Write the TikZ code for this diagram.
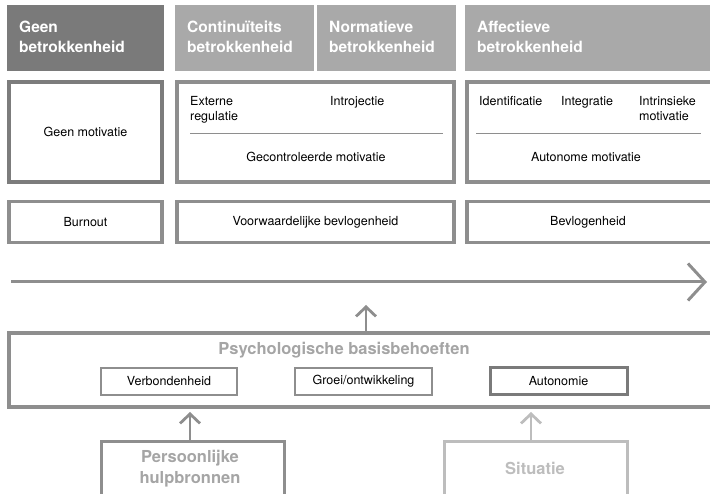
\documentclass[tikz,border=0pt]{standalone}
\usepackage{fontspec}
\setmainfont{TeX Gyre Heros}
\usetikzlibrary{arrows.meta}
\definecolor{hdark}{HTML}{7A7A7A}
\definecolor{hlight}{HTML}{A9A9A9}
\definecolor{bord}{HTML}{8E8E8E}
\definecolor{bordd}{HTML}{7C7C7C}
\definecolor{bordl}{HTML}{BDBDBD}
\definecolor{txtg}{HTML}{A5A5A5}
\tikzset{
  hdrtext/.style={anchor=north west, align=left, text=white, font=\fontsize{15.5}{20}\selectfont\bfseries, inner sep=0pt},
  boxx/.style={draw=#1, line width=3.4pt, fill=white},
  lbl/.style={font=\fontsize{12.5}{15}\selectfont, inner sep=0pt, text=black},
  sep/.style={draw=bord, line width=1pt},
  upa/.style={draw=#1, line width=2.8pt, -{Straight Barb[length=9.5pt,width=20pt,line width=2.8pt]}},
}
\begin{document}
\begin{tikzpicture}[x=1pt,y=-1pt]
\useasboundingbox (0,0) rectangle (710,494);
% headers
\fill[hdark] (7,5) rectangle (164,71);
\fill[hlight] (175,5) rectangle (314,71);
\fill[hlight] (317,5) rectangle (456,71);
\fill[hlight] (465,5) rectangle (712,71);
\node[hdrtext] (h1) at (19,21) {Geen\\betrokkenheid};
\node[hdrtext] (h2) at (187,21) {Continuïteits\\betrokkenheid};
\node[hdrtext] (h3) at (329,21) {Normatieve\\betrokkenheid};
\node[hdrtext] (h4) at (477,21) {Affectieve\\betrokkenheid};
% row 2
\draw[boxx=bordd] (9,82) rectangle (162,182);
\draw[boxx=bord] (177,82) rectangle (454,182);
\draw[boxx=bord] (467,82) rectangle (712,182);
\node[lbl] (gm) at (85.5,132) {Geen motivatie};
\node[lbl, anchor=north west, align=left] (ext) at (190,96) {Externe\\regulatie};
\node[lbl, anchor=north west] (intro) at (330,96) {Introjectie};
\draw[sep] (190,134) -- (443,134);
\node[lbl] (gec) at (316,157) {Gecontroleerde motivatie};
\node[lbl, anchor=north west] (ident) at (479,96) {Identificatie};
\node[lbl, anchor=north west] (integ) at (561,96) {Integratie};
\node[lbl, anchor=north west, align=left] (intr) at (639,96) {Intrinsieke\\motivatie};
\draw[sep] (476,134) -- (701,134);
\node[lbl] (aut) at (586,157) {Autonome motivatie};
% row 3
\draw[boxx=bord] (9,201.5) rectangle (162,242.5);
\draw[boxx=bord] (177,201.5) rectangle (454,242.5);
\draw[boxx=bord] (467,201.5) rectangle (712,242.5);
\node[lbl] (bo) at (85.5,222) {Burnout};
\node[lbl] (vb) at (315.5,222) {Voorwaardelijke bevlogenheid};
\node[lbl] (bv) at (588,222) {Bevlogenheid};
% main arrow
\coordinate (a0) at (11,282);
\coordinate (a1) at (707,282);
\draw[draw=bord, line width=3pt, -{Straight Barb[length=17pt,width=37pt,line width=3pt]}] (a0) -- (a1);
% big box
\draw[boxx=bord] (9,333) rectangle (712,407);
\node[font=\fontsize{16.5}{20}\selectfont\bfseries, text=txtg, inner sep=0pt] (psy) at (344,350) {Psychologische basisbehoeften};
\draw[draw=bord, line width=2.6pt, fill=white] (101,368) rectangle (237,395);
\draw[draw=bord, line width=2.6pt, fill=white] (295,368) rectangle (432,395);
\draw[draw=hdark, line width=3pt, fill=white] (490,368) rectangle (627,395);
\node[lbl] (vbh) at (169,381.5) {Verbondenheid};
\node[lbl] (gro) at (363.5,381.5) {Groei/ontwikkeling};
\node[lbl] (auto) at (558.5,381.5) {Autonomie};
% up arrow to main arrow
\coordinate (u0) at (366,331);
\coordinate (u1) at (366,305);
\draw[upa=bord] (u0) -- (u1);
% bottom boxes
\draw[draw=bord, line width=3pt, fill=white] (101,441) rectangle (284,496);
\node[font=\fontsize{16.5}{21}\selectfont\bfseries, text=txtg, align=center, inner sep=0pt] (ph) at (190,469) {Persoonlijke\\hulpbronnen};
\draw[draw=bordl, line width=3pt, fill=white] (444,441) rectangle (627,496);
\node[font=\fontsize{16.5}{20}\selectfont\bfseries, text=bordl, inner sep=0pt] (sit) at (535,468) {Situatie};
\coordinate (p0) at (190,439.5);
\coordinate (p1) at (190,412);
\draw[upa=bord] (p0) -- (p1);
\coordinate (s0) at (531,439.5);
\coordinate (s1) at (531,412);
\draw[upa=bordl] (s0) -- (s1);
\end{tikzpicture}
\end{document}
